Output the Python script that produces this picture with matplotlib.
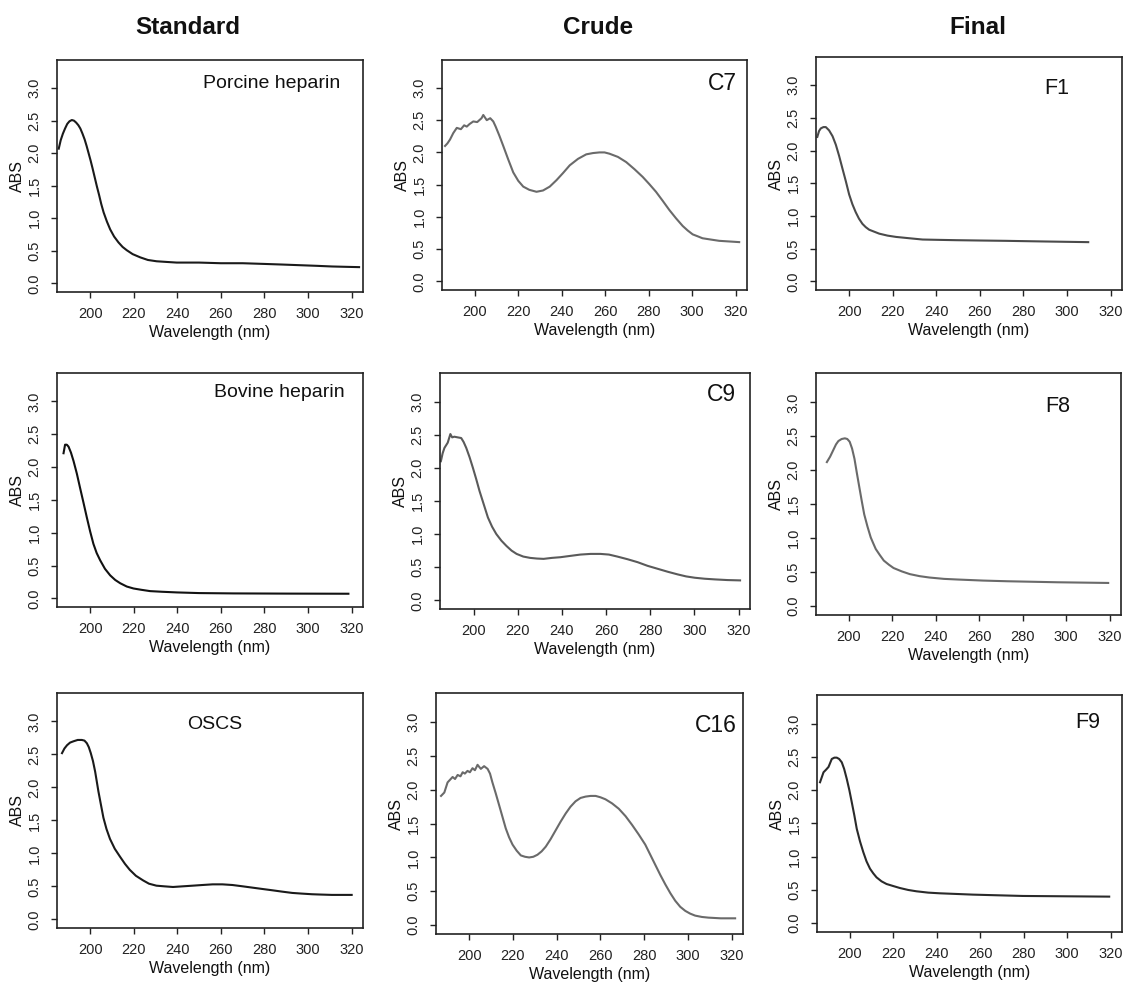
import matplotlib
matplotlib.use("Agg")
import matplotlib.pyplot as plt

plt.rcParams['font.family'] = ['Liberation Sans', 'DejaVu Sans']

# ---- data ----
col_titles = ["Standard", "Crude", "Final"]

porcine_x = [185.6, 186.5, 187.5, 188.5, 189.5, 190.5, 191.6, 192.6, 193.6, 194.6, 195.5, 196.5, 197.5, 198.4, 199.3, 200.2, 201.1, 202.1, 203.1, 204.1, 205.1, 206.2, 207.7, 209.2, 211, 213, 214.9, 216.8, 219.5, 223, 226.5, 230.5, 235, 239.7, 250, 260, 270, 279.2, 288, 296, 304, 311, 317, 323.4]
porcine_y = [2.07, 2.20, 2.30, 2.38, 2.45, 2.49, 2.51, 2.50, 2.47, 2.43, 2.38, 2.30, 2.21, 2.11, 2.00, 1.89, 1.77, 1.63, 1.49, 1.36, 1.22, 1.09, 0.95, 0.83, 0.72, 0.63, 0.56, 0.51, 0.45, 0.40, 0.36, 0.34, 0.33, 0.32, 0.32, 0.31, 0.31, 0.30, 0.29, 0.28, 0.27, 0.26, 0.255, 0.25]

bovine_x = [187.8, 188.5, 189.3, 190.1, 191.2, 192.4, 193.9, 195.4, 197, 198.5, 200, 201.5, 203, 204.6, 206.8, 209.2, 211.5, 213.8, 216.8, 219.9, 223.5, 227.5, 233, 239.8, 250, 265.7, 290, 318.5]
bovine_y = [2.21, 2.34, 2.34, 2.31, 2.22, 2.09, 1.90, 1.68, 1.45, 1.23, 1.02, 0.83, 0.69, 0.58, 0.45, 0.35, 0.28, 0.23, 0.18, 0.15, 0.13, 0.11, 0.10, 0.09, 0.08, 0.075, 0.072, 0.07]

oscs_x = [187.1, 188.2, 189.4, 190.8, 192.4, 194.3, 196.2, 197.4, 198.5, 199.4, 200.3, 201.3, 202.3, 203.0, 203.8, 205.0, 206.1, 207.5, 209.1, 211.3, 213.7, 216, 218.2, 221, 224.3, 227, 230.4, 234, 238, 242.5, 247.1, 251.5, 256.2, 260.7, 265.3, 270, 274.5, 279, 283.6, 288, 292.7, 297, 301.8, 306, 310.9, 315, 320]
oscs_y = [2.52, 2.59, 2.64, 2.68, 2.70, 2.72, 2.72, 2.71, 2.67, 2.61, 2.52, 2.40, 2.24, 2.10, 1.94, 1.73, 1.54, 1.37, 1.22, 1.07, 0.95, 0.84, 0.75, 0.66, 0.59, 0.54, 0.51, 0.50, 0.49, 0.50, 0.51, 0.52, 0.53, 0.53, 0.52, 0.50, 0.48, 0.46, 0.44, 0.42, 0.40, 0.39, 0.38, 0.375, 0.37, 0.37, 0.37]

c7_x = [186.2, 187.3, 188.5, 190, 191.6, 193.5, 195, 196.2, 197.5, 199.2, 201, 203, 203.8, 205.4, 207, 208.4, 209.5, 211.2, 213, 215.3, 217.6, 219.9, 222.2, 225, 228.3, 231.3, 234.4, 237.5, 240.5, 243.6, 247.4, 251.2, 254.3, 257.3, 259.6, 261.9, 265.8, 269.6, 273.4, 277.2, 280.2, 283.3, 286.4, 289.4, 292.5, 295.6, 297.9, 300.2, 302.5, 304.7, 308.5, 312.4, 317, 321.6]
c7_y = [2.10, 2.14, 2.20, 2.30, 2.38, 2.36, 2.42, 2.40, 2.44, 2.48, 2.47, 2.53, 2.58, 2.50, 2.53, 2.48, 2.40, 2.26, 2.10, 1.89, 1.69, 1.56, 1.47, 1.42, 1.39, 1.41, 1.47, 1.57, 1.68, 1.80, 1.90, 1.97, 1.99, 2.00, 2.00, 1.98, 1.93, 1.85, 1.74, 1.62, 1.51, 1.39, 1.25, 1.11, 0.98, 0.86, 0.79, 0.73, 0.70, 0.67, 0.65, 0.63, 0.62, 0.61]

c9_x = [185.2, 186.0, 186.8, 188.3, 189.5, 190.3, 191.3, 192.8, 194.4, 195.5, 196.7, 198.2, 199.7, 201.2, 202.7, 204.6, 206.5, 208.4, 210.3, 212.6, 214.9, 217.2, 219.5, 222.5, 225.6, 228.7, 231.7, 235.5, 239.3, 243.8, 248.4, 253, 257.5, 261.3, 265.1, 269.7, 274.3, 278.8, 283.4, 288, 292.5, 296.3, 300.2, 304.7, 309.3, 315, 320.7]
c9_y = [2.10, 2.22, 2.30, 2.38, 2.51, 2.46, 2.47, 2.46, 2.45, 2.39, 2.30, 2.16, 2.00, 1.83, 1.65, 1.45, 1.25, 1.11, 1.00, 0.90, 0.82, 0.75, 0.70, 0.66, 0.64, 0.63, 0.625, 0.64, 0.65, 0.67, 0.69, 0.70, 0.70, 0.69, 0.66, 0.62, 0.575, 0.52, 0.475, 0.43, 0.39, 0.36, 0.34, 0.325, 0.315, 0.305, 0.30]

c16_x = [187.1, 188.6, 190.1, 192.4, 193.5, 194.7, 196, 197, 198, 199.2, 200.3, 201.5, 202.6, 203.8, 205.3, 206.8, 208.4, 209.5, 210.6, 212.1, 213.7, 215.2, 216.7, 218.2, 219.8, 221.7, 223.6, 225.5, 227.4, 229.3, 231.2, 233.1, 235, 237.2, 239.5, 241.8, 244.1, 246.3, 248.6, 250.9, 253.2, 255.5, 257.8, 260, 262.3, 265.3, 268.4, 271.5, 274.5, 277.5, 280.5, 282.8, 285.1, 287.4, 289.7, 292, 294.2, 296.5, 298.8, 301, 303.3, 306.4, 309.4, 315, 321.6]
c16_y = [1.91, 1.96, 2.11, 2.19, 2.16, 2.22, 2.20, 2.26, 2.24, 2.28, 2.26, 2.32, 2.29, 2.37, 2.31, 2.35, 2.31, 2.24, 2.11, 1.95, 1.77, 1.60, 1.43, 1.30, 1.19, 1.10, 1.03, 1.01, 1.00, 1.01, 1.04, 1.09, 1.16, 1.27, 1.40, 1.53, 1.65, 1.75, 1.83, 1.88, 1.90, 1.91, 1.91, 1.89, 1.86, 1.80, 1.72, 1.61, 1.48, 1.34, 1.19, 1.04, 0.89, 0.74, 0.60, 0.47, 0.36, 0.27, 0.21, 0.17, 0.14, 0.12, 0.11, 0.10, 0.10]

f1_x = [185.4, 186.2, 187, 188.2, 189.3, 190.8, 192.4, 193.9, 195.4, 196.9, 198.5, 200, 201.5, 203, 204.5, 206.1, 207.6, 209.2, 211.5, 213.8, 217.6, 221.5, 227.5, 233.7, 241, 249, 260, 272, 290, 309.7]
f1_y = [2.21, 2.30, 2.34, 2.36, 2.36, 2.31, 2.22, 2.09, 1.92, 1.73, 1.53, 1.33, 1.18, 1.06, 0.96, 0.88, 0.83, 0.79, 0.76, 0.73, 0.70, 0.68, 0.66, 0.64, 0.635, 0.63, 0.625, 0.62, 0.61, 0.60]

f8_x = [189.8, 191.3, 192.8, 194, 195.1, 196.6, 198.1, 199.2, 200.3, 201.4, 202.5, 203.6, 204.8, 205.9, 207, 208.5, 210, 211.2, 212.3, 214.2, 216, 218.3, 220.5, 224.3, 228, 232.5, 237, 243.7, 250.4, 261.7, 272.9, 296, 319.3]
f8_y = [2.12, 2.20, 2.30, 2.38, 2.43, 2.46, 2.47, 2.46, 2.42, 2.32, 2.17, 1.96, 1.74, 1.54, 1.35, 1.17, 1.01, 0.92, 0.84, 0.75, 0.67, 0.61, 0.56, 0.51, 0.47, 0.44, 0.42, 0.40, 0.39, 0.375, 0.365, 0.35, 0.34]

f9_x = [186.2, 187.8, 189, 190.1, 191.6, 192.8, 193.9, 195, 196.2, 197.3, 198.5, 199.7, 200.8, 202, 203.1, 204.6, 206.1, 207.6, 209.2, 210.7, 212.2, 214.5, 216.8, 219.8, 222.9, 226.8, 230.6, 236, 241.3, 249, 256.6, 268, 279.5, 299, 319.3]
f9_y = [2.12, 2.27, 2.31, 2.35, 2.47, 2.49, 2.49, 2.47, 2.42, 2.32, 2.17, 2.00, 1.82, 1.62, 1.42, 1.23, 1.07, 0.93, 0.82, 0.75, 0.69, 0.63, 0.59, 0.56, 0.53, 0.50, 0.48, 0.46, 0.45, 0.44, 0.43, 0.42, 0.41, 0.405, 0.40]

x_ticks = [200, 220, 240, 260, 280, 300, 320]
y_ticks = [0.0, 0.5, 1.0, 1.5, 2.0, 2.5, 3.0]
y_ticklabels = ["0.0", "0.5", "1.0", "1.5", "2.0", "2.5", "3.0"]

# ---- figure layout ----
W, H = 1124, 985
fig = plt.figure(figsize=(W / 100, H / 100), dpi=100)

panels = [
    (porcine_x, porcine_y, "Porcine heparin", "#1a1a1a", (57, 60, 363, 292), (0.925, 0.90), "right", 14),
    (c7_x, c7_y, "C7", "#6a6a6a", (442, 60, 747, 290), (0.967, 0.90), "right", 16.5),
    (f1_x, f1_y, "F1", "#4a4a4a", (816, 57, 1122, 290), (0.788, 0.865), "center", 15.5),
    (bovine_x, bovine_y, "Bovine heparin", "#111111", (57, 373, 363, 607), (0.94, 0.915), "right", 14),
    (c9_x, c9_y, "C9", "#5a5a5a", (440, 373, 750, 609), (0.955, 0.907), "right", 16.5),
    (f8_x, f8_y, "F8", "#6a6a6a", (816, 373, 1121, 615), (0.793, 0.86), "center", 15.5),
    (oscs_x, oscs_y, "OSCS", "#1a1a1a", (57, 693, 363, 928), (0.516, 0.864), "center", 14),
    (c16_x, c16_y, "C16", "#6a6a6a", (436, 693, 743, 934), (0.98, 0.867), "right", 16.5),
    (f9_x, f9_y, "F9", "#2a2a2a", (817, 695, 1122, 932), (0.887, 0.882), "center", 15.5),
]

for xs, ys, label, color, box, lpos, ha, lfs in panels:
    l, t, r, b = box
    ax = fig.add_axes([l / W, 1 - b / H, (r - l) / W, (b - t) / H])
    ax.plot(xs, ys, color=color, lw=1.5, solid_joinstyle="round")
    ax.set_xlim(184.8, 325.2)
    ax.set_ylim(-0.132, 3.432)
    ax.set_xticks(x_ticks)
    ax.set_yticks(y_ticks)
    ax.set_yticklabels(y_ticklabels, rotation=90, va="center")
    ax.tick_params(direction="out", length=4, width=1, colors="#222222",
                   labelsize=10.5, labelcolor="#222222")
    ax.tick_params(axis="x", pad=7)
    ax.tick_params(axis="y", pad=7)
    for s in ax.spines.values():
        s.set_linewidth(1.2)
        s.set_color("#222222")
    ax.set_xlabel("Wavelength (nm)", fontsize=11.5, labelpad=3, color="#111111")
    ax.set_ylabel("ABS", fontsize=11.5, labelpad=2, color="#111111")
    ax.text(lpos[0], lpos[1], label, transform=ax.transAxes, ha=ha, va="center",
            fontsize=lfs, color="#111111")

title_pos = [(188, 27), (598, 27), (978, 27)]
for title, (tx, ty) in zip(col_titles, title_pos):
    fig.text(tx / W, 1 - ty / H, title, ha="center", va="center",
             fontsize=17.5, fontweight="bold", color="#111111")

fig.savefig("out.png", dpi=100)
